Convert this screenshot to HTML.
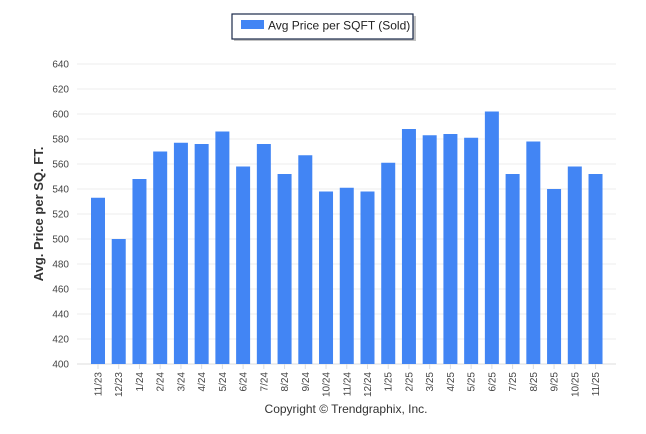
<!DOCTYPE html>
<html><head><meta charset="utf-8"><style>
body{margin:0;background:#fff;}
svg{display:block;font-family:"Liberation Sans",sans-serif;}
</style></head><body>
<svg width="646" height="434" id="chart">
<g>
<rect x="234" y="16" width="182" height="25" fill="#888" opacity="0.5"/>
<rect x="232" y="14" width="181" height="25" fill="#fff" stroke="#1a2a4a" stroke-width="1.2"/>
<rect x="241" y="20" width="23" height="9" fill="#4285f4"/>
<text x="268" y="29.5" font-size="12" fill="#222">Avg Price per SQFT (Sold)</text>
</g>
<text transform="translate(43,214) rotate(-90)" text-anchor="middle" font-size="13" font-weight="bold" fill="#333">Avg. Price per SQ. FT.</text>
<g id="grid"></g><g id="bars"></g><g id="xl"></g>
<text x="346" y="413" text-anchor="middle" font-size="12" fill="#333">Copyright © Trendgraphix, Inc.</text>
</svg>
<script>
const categories=["11/23","12/23","1/24","2/24","3/24","4/24","5/24","6/24","7/24","8/24","9/24","10/24","11/24","12/24","1/25","2/25","3/25","4/25","5/25","6/25","7/25","8/25","9/25","10/25","11/25"];
const values=[533,500,548,570,577,576,586,558,576,552,567,538,541,538,561,588,583,584,581,602,552,578,540,558,552];
const yTicks=[400,420,440,460,480,500,520,540,560,580,600,620,640];
const NS="http://www.w3.org/2000/svg";
const y=v=>364-(v-400)*1.25;
const x=i=>98+i*20.73;
const grid=document.getElementById('grid'),bars=document.getElementById('bars'),xl=document.getElementById('xl');
function mk(t,a){const e=document.createElementNS(NS,t);for(const k in a)e.setAttribute(k,a[k]);return e;}
yTicks.forEach(t=>{
 const l=mk('line',{x1:77,x2:616,y1:y(t),y2:y(t),stroke:t===400?'#ddd':'#ececec','stroke-width':1});
 
 
 grid.appendChild(l);
 const tx=mk('text',{x:69,y:y(t)+3.5,'text-anchor':'end','font-size':10,fill:'#444'});
 tx.textContent=t;
 
 
 grid.appendChild(tx);
});
values.forEach((v,i)=>{
 const r=mk('rect',{x:x(i)-7,y:y(v),width:14,height:364-y(v),fill:'#4285f4'});
 
 
 bars.appendChild(r);
 const tk=mk('line',{x1:x(i),x2:x(i),y1:364,y2:369,stroke:'#ddd'});
 
 
 xl.appendChild(tk);
 const t=mk('text',{transform:`translate(${x(i)+3.5},372) rotate(-90)`,'text-anchor':'end','font-size':10,fill:'#444'});
 t.textContent=categories[i];
 
 
 xl.appendChild(t);
});
</script>
</body></html>
